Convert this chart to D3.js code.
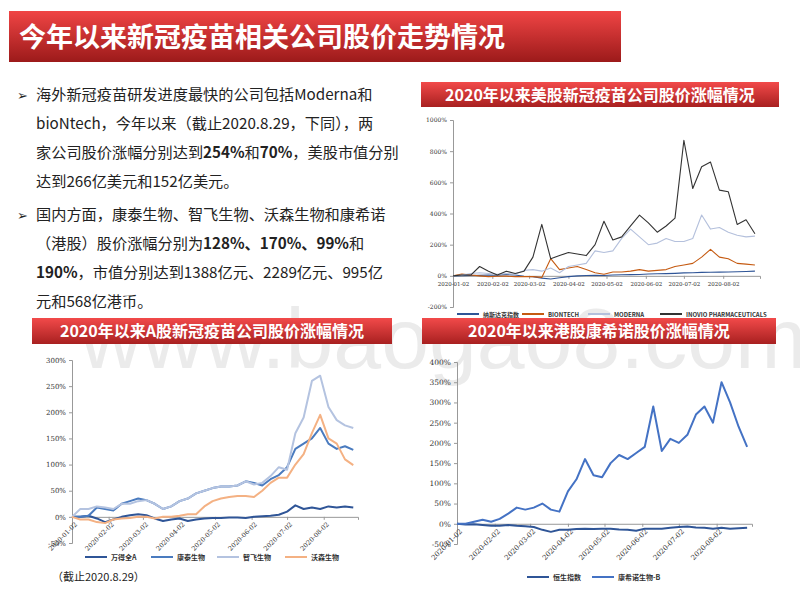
<!DOCTYPE html>
<html><head><meta charset="utf-8">
<script src="https://cdn.jsdelivr.net/npm/d3@7"></script>
<style>body{margin:0;background:#fff}svg{display:block}</style>
</head><body>
<svg id="c" width="800" height="600"></svg>
<script>
const dates = ["2020-01-02","2020-01-09","2020-01-16","2020-01-23","2020-01-30","2020-02-06","2020-02-13","2020-02-20","2020-02-27","2020-03-05","2020-03-12","2020-03-19","2020-03-26","2020-04-02","2020-04-09","2020-04-16","2020-04-23","2020-04-30","2020-05-07","2020-05-14","2020-05-21","2020-05-28","2020-06-04","2020-06-11","2020-06-18","2020-06-25","2020-07-02","2020-07-09","2020-07-16","2020-07-23","2020-07-30","2020-08-06","2020-08-13","2020-08-20","2020-08-27"];

// US
const nasdaq  = [0,1,2,3,5,4,8,5,-3,-5,-15,-20,-12,-5,0,2,3,2,5,7,8,9,12,13,14,16,19,20,22,23,24,25,26,28,30];
const biontech= [0,12,5,0,-5,-3,-2,-5,-5,-5,-10,110,40,50,60,40,20,10,25,25,30,40,30,35,40,60,70,80,120,170,120,110,80,75,70];
const moderna = [0,5,15,20,15,10,15,10,35,40,30,50,20,60,70,80,160,150,160,240,300,250,200,210,240,220,220,240,390,300,310,280,260,250,255];
const inovio  = [0,5,5,60,30,5,30,15,30,120,330,110,130,150,140,130,200,350,230,250,320,390,340,280,320,370,870,560,700,730,550,540,330,360,270];
// A shares
const windA   = [0,0,2,-3,-10,-5,0,3,5,3,-3,-8,-5,-3,-8,-5,-3,-2,-2,-1,-1,-2,0,1,2,4,10,22,15,18,15,20,18,20,18];
const kangtai = [0,0,2,18,15,12,25,30,35,32,25,15,20,30,35,45,50,55,58,58,60,68,65,60,72,80,95,130,140,150,170,140,130,135,128];
const zhifei  = [0,15,15,20,18,15,25,25,30,32,25,15,20,30,35,45,50,55,58,58,60,68,62,65,78,95,90,160,190,260,270,210,185,175,170];
const walvax  = [0,-5,-5,-10,-12,-5,-3,-2,0,0,-3,0,0,2,5,5,20,30,35,38,40,40,38,50,65,75,75,100,120,160,195,150,140,110,99];
// HK
const hsi     = [0,-2,-1,-3,-5,-5,-3,-5,-6,-8,-15,-20,-15,-15,-13,-12,-13,-12,-12,-14,-15,-17,-12,-12,-12,-10,-8,-7,-9,-10,-12,-10,-12,-11,-10];
const cansino = [0,0,5,10,5,12,25,40,35,40,50,35,30,80,110,160,120,115,150,170,160,175,190,290,180,210,200,220,270,290,250,350,300,240,190];

const xTicks = ["2020-01-02","2020-02-02","2020-03-02","2020-04-02","2020-05-02","2020-06-02","2020-07-02","2020-08-02"];
const usTicks = [-200,0,200,400,600,800,1000];
const aTicks = [-50,0,50,100,150,200,250,300];
const hkTicks = [-50,0,50,100,150,200,250,300,350,400];

const svg = d3.select('#c');
const parse = d3.timeParse('%Y-%m-%d');
const defs = svg.append('defs');
const g1 = defs.append('linearGradient').attr('id','red').attr('x1',0).attr('y1',0).attr('x2',0).attr('y2',1);
g1.append('stop').attr('offset','0%').attr('stop-color','#f04545');
g1.append('stop').attr('offset','100%').attr('stop-color','#9c1a1a');
const g2 = defs.append('linearGradient').attr('id','red2').attr('x1',0).attr('y1',0).attr('x2',0).attr('y2',1);
g2.append('stop').attr('offset','0%').attr('stop-color','#f24a4a');
g2.append('stop').attr('offset','100%').attr('stop-color','#a82020');

// main title
svg.append('rect').attr('x',9).attr('y',11).attr('width',612).attr('height',51).attr('fill','url(#red)');
svg.append('text').attr('x',19).attr('y',47).attr('fill','#fff').attr('font-size',27).attr('font-weight','bold')
  .attr('font-family','Noto Sans CJK SC').text('今年以来新冠疫苗相关公司股价走势情况');

// paragraphs
const para = [
  {y:100, b:true, parts:[['海外新冠疫苗研发进度最快的公司包括Moderna和',0]]},
  {y:129, parts:[['bioNtech，今年以来（截止2020.8.29，下同），两',0]]},
  {y:158, parts:[['家公司股价涨幅分别达到',0],['254%',1],['和',0],['70%',1],['，美股市值分别',0]]},
  {y:187, parts:[['达到266亿美元和152亿美元。',0]]},
  {y:220, b:true, parts:[['国内方面，康泰生物、智飞生物、沃森生物和康希诺',0]]},
  {y:249, parts:[['（港股）股价涨幅分别为',0],['128%、170%、99%',1],['和',0]]},
  {y:278, parts:[['190%',1],['，市值分别达到1388亿元、2289亿元、995亿',0]]},
  {y:307, parts:[['元和568亿港币。',0]]}
];
para.forEach(p => {
  if (p.b) svg.append('text').attr('x',17).attr('y',p.y).attr('font-size',13).attr('fill','#222').text('➢');
  const t = svg.append('text').attr('x',36).attr('y',p.y).attr('font-size',15.2).attr('fill','#222')
    .attr('font-family','Noto Sans CJK SC');
  p.parts.forEach(([s,b]) => t.append('tspan').attr('font-weight',b?'bold':'normal').text(s));
});

// watermark
svg.append('text').attr('x',80).attr('y',368).attr('font-size',86).attr('font-family','Liberation Sans')
  .attr('fill','rgba(190,190,190,0.3)').text('www.baogao8.com');

function banner(x,y,w,h,txt){
  svg.append('rect').attr('x',x).attr('y',y).attr('width',w).attr('height',h).attr('fill','url(#red2)');
  svg.append('text').attr('x',x+w/2).attr('y',y+h/2+6).attr('text-anchor','middle').attr('fill','#fff')
    .attr('font-size',16).attr('font-weight','bold').attr('font-family','Noto Sans CJK SC').text(txt);
}

function chart(o){
  const x = d3.scaleTime().domain([parse('2020-01-02'),parse('2020-08-31')]).range([o.x0,o.x1]);
  const y = d3.scaleLinear().domain(o.dom).range([o.y1,o.y0]);
  const g = svg.append('g').attr('font-family','DejaVu Serif');
  const ya = g.append('g').attr('transform',`translate(${o.x0},0)`)
    .call(d3.axisLeft(y).tickValues(o.ticks).tickSize(3).tickFormat(d=>d+'%'));
  ya.selectAll('text').attr('font-size',o.yfs).attr('fill','#333').attr('font-family','DejaVu Serif');
  ya.selectAll('line,path').attr('stroke','#999');
  const xa = g.append('g').attr('transform',`translate(0,${y(0)})`)
    .call(d3.axisBottom(x).tickValues(xTicks.map(parse)).tickSize(3).tickFormat(d3.timeFormat('%Y-%m-%d')));
  xa.select('path').attr('stroke','#999');
  xa.selectAll('line').attr('stroke','#999');
  const xt = xa.selectAll('text').attr('font-size',o.xfs).attr('fill','#333').attr('font-family','DejaVu Serif');
  if (o.rot) xt.attr('text-anchor','end').attr('dx','-0.3em').attr('dy','0.5em').attr('transform','rotate(-45)');
  const line = d3.line().x((d,i)=>x(parse(dates[i]))).y(d=>y(d));
  o.series.forEach(s => g.append('path').datum(s.v).attr('d',line).attr('fill','none')
    .attr('stroke',s.c).attr('stroke-width',o.sw).attr('stroke-linejoin','round'));
  // legend
  const lg = svg.append('g');
  o.series.forEach((s,i) => {
    const lx = o.lx[i];
    lg.append('line').attr('x1',lx).attr('x2',lx+22).attr('y1',o.ly).attr('y2',o.ly).attr('stroke',s.c).attr('stroke-width',2);
    lg.append('text').attr('x',lx+26).attr('y',o.ly+3).attr('font-size',o.lfs).attr('font-weight','bold')
      .attr('font-family','Noto Sans CJK SC').attr('fill','#333').text(s.n);
  });
}

banner(421,82,358,25,'2020年以来美股新冠疫苗公司股价涨幅情况');
chart({x0:453,x1:760,y0:120,y1:307,dom:[-200,1000],ticks:usTicks,yfs:6,xfs:5.5,sw:1.1,
  series:[{n:'纳斯达克指数',v:nasdaq,c:'#2f5597'},{n:'BIONTECH',v:biontech,c:'#c55a11'},
          {n:'MODERNA',v:moderna,c:'#b4c0dc'},{n:'INOVIO PHARMACEUTICALS',v:inovio,c:'#333'}],
  lx:[457,522,588,660],ly:314,lfs:6});

banner(32,318,360,26,'2020年以来A股新冠疫苗公司股价涨幅情况');
chart({x0:72,x1:358,y0:360,y1:543,dom:[-50,300],ticks:aTicks,yfs:7,xfs:6.5,sw:2,rot:true,
  series:[{n:'万得全A',v:windA,c:'#2f5597'},{n:'康泰生物',v:kangtai,c:'#4a7bbf'},
          {n:'智飞生物',v:zhifei,c:'#b4c3e0'},{n:'沃森生物',v:walvax,c:'#f4b183'}],
  lx:[85,151,217,285],ly:557,lfs:7});
svg.append('text').attr('x',52).attr('y',581).attr('font-size',11).attr('font-family','Noto Sans CJK SC').attr('fill','#222').text('（截止2020.8.29）');

banner(422,318,354,26,'2020年以来港股康希诺股价涨幅情况');
chart({x0:457,x1:752,y0:362,y1:544,dom:[-50,400],ticks:hkTicks,yfs:7.5,xfs:7,sw:2,rot:true,
  series:[{n:'恒生指数',v:hsi,c:'#2f5597'},{n:'康希诺生物-B',v:cansino,c:'#4472c4'}],
  lx:[527,592],ly:577,lfs:7});
</script>
</body></html>
